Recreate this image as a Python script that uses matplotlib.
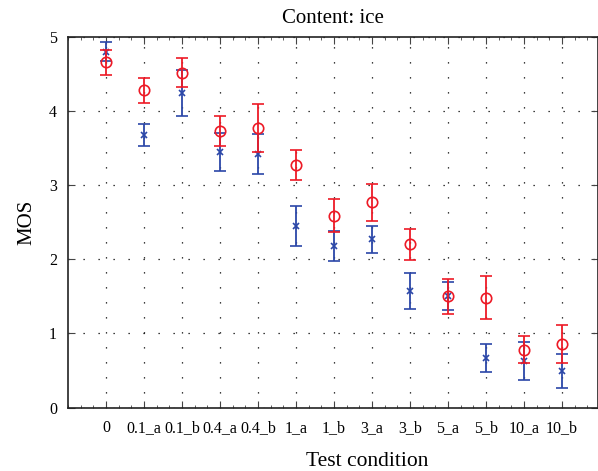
import matplotlib
matplotlib.use("Agg")
import matplotlib.pyplot as plt
import numpy as np
from matplotlib.ticker import MultipleLocator

conditions = ["0", "0.1_a", "0.1_b", "0.4_a", "0.4_b", "1_a", "1_b",
              "3_a", "3_b", "5_a", "5_b", "10_a", "10_b"]
tick_labels = list(conditions)

blue_mean = [4.80, 3.68, 4.24, 3.45, 3.42, 2.45, 2.18, 2.27, 1.57, 1.51, 0.67, 0.63, 0.49]
blue_err  = [0.13, 0.15, 0.31, 0.26, 0.27, 0.27, 0.20, 0.18, 0.24, 0.19, 0.19, 0.26, 0.23]
red_mean  = [4.66, 4.28, 4.52, 3.73, 3.77, 3.27, 2.59, 2.77, 2.20, 1.50, 1.48, 0.78, 0.86]
red_err   = [0.17, 0.17, 0.19, 0.20, 0.32, 0.20, 0.22, 0.25, 0.21, 0.24, 0.29, 0.18, 0.26]

plt.rcParams['font.family'] = ['Liberation Serif', 'DejaVu Serif']

fig = plt.figure(figsize=(5.98, 4.71), dpi=100)
ax = fig.add_axes([68/598, 1-407.5/471, (598-68)/598, (407.5-37)/471])

x = np.arange(len(conditions))
blue = (0.17, 0.28, 0.66)
red = (0.93, 0.10, 0.15)

ax.errorbar(x, blue_mean, yerr=blue_err, fmt='x', color=blue, ecolor=blue,
            markersize=4.5, markeredgewidth=1.2, elinewidth=1.3, capsize=4, capthick=1.3,
            zorder=3)
ax.errorbar(x, red_mean, yerr=red_err, fmt='o', color=red, ecolor=red,
            markersize=7.5, markerfacecolor='none', markeredgewidth=1.2,
            elinewidth=1.3, capsize=4, capthick=1.3, zorder=4)

ax.set_xlim(-1, 12.95)
ax.set_ylim(0, 5)
ax.set_xticks(x)
ax.set_xticklabels(tick_labels, fontsize=11.5)
ax.set_yticks([0, 1, 2, 3, 4, 5])
ax.tick_params(axis='y', labelsize=11.5)
ax.xaxis.set_minor_locator(MultipleLocator(1/3))
ax.tick_params(which='both', direction='in', top=True, right=True, color='#444444')
ax.tick_params(which='major', length=5)
ax.tick_params(which='minor', length=2.5)
ax.tick_params(axis='y', which='minor', left=False, right=False)
ax.tick_params(axis='x', pad=9)
ax.tick_params(axis='y', pad=8)

ax.grid(True, which='major', color='black', linestyle=(0, (1, 11)), linewidth=0.9)
for s in ax.spines.values():
    s.set_linewidth(1.2)
    s.set_color('#222222')

ax.set_title("Content: ice", fontsize=15, pad=10)
ax.set_xlabel("Test condition", fontsize=15.5, labelpad=10)
ax.xaxis.set_label_coords((367 - 68) / 530, -0.12)
ax.set_ylabel("MOS", fontsize=15, labelpad=9)

fig.savefig("out.png", dpi=100)
